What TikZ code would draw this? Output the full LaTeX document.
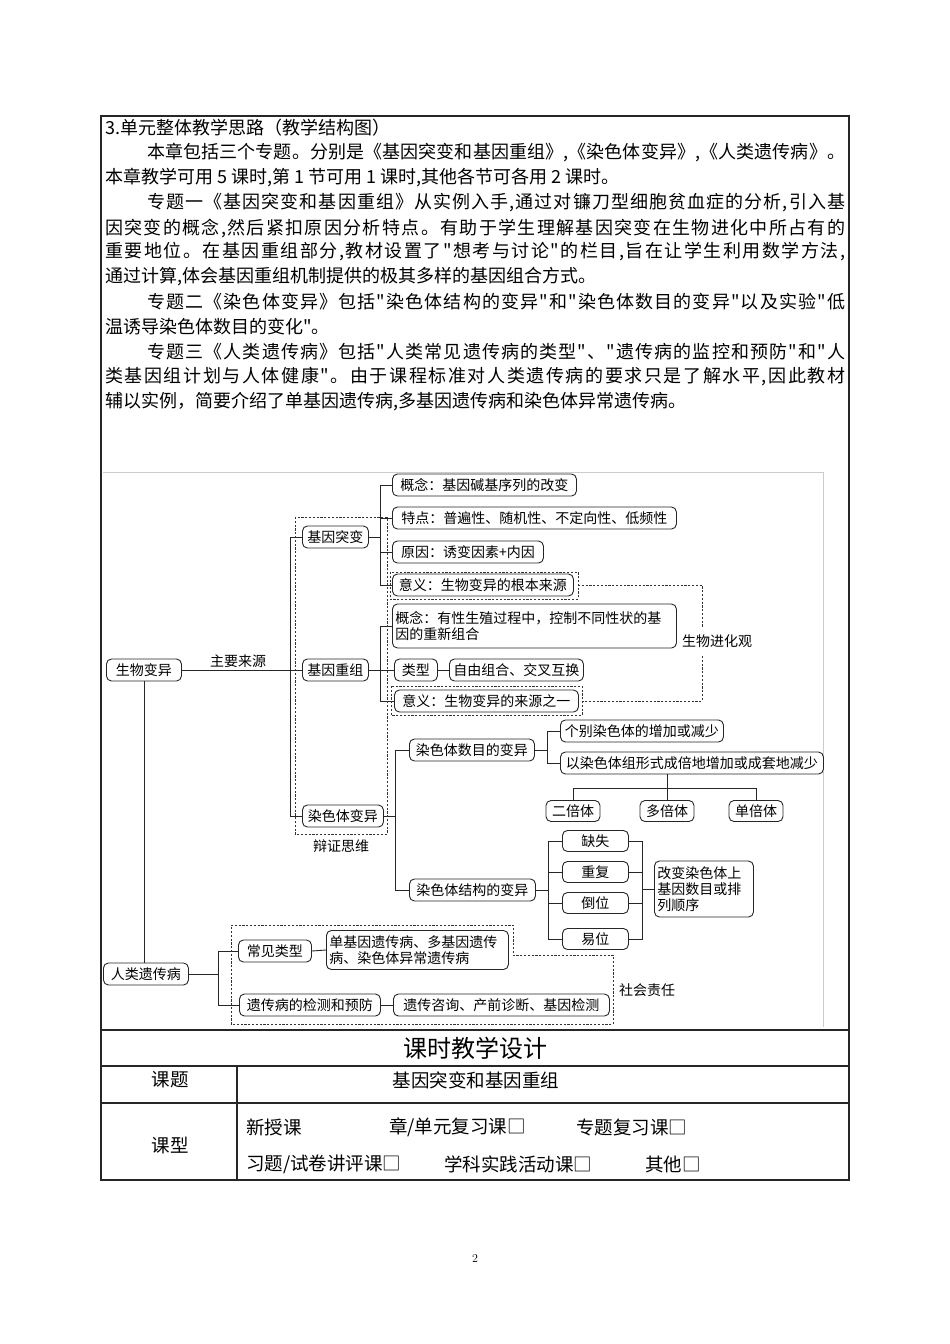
\documentclass[tikz,border=0pt]{standalone}
\usepackage{fontspec}
\newfontfamily\cjk{Noto Sans CJK SC}
\newcommand{\myBody}{\cjk\fontsize{18}{22}\selectfont}
\newcommand{\myDia}{\cjk\fontsize{14}{16}\selectfont}
\newcommand{\myTitle}{\cjk\fontsize{24}{28}\selectfont}
\newcommand{\myCell}{\cjk\fontsize{18.5}{22}\selectfont}
\makeatletter
\newcommand{\jl}[2]{\hbox to #1{\jl@first#2\relax}}
\def\jl@first#1{#1\jl@rest}
\def\jl@rest#1{\ifx\relax#1\else\hfil#1\expandafter\jl@rest\fi}
\makeatother
\begin{document}
\begin{tikzpicture}[x=1pt,y=-1pt,
  bx/.style={draw=black!85, line width=0.9pt, rounded corners=5pt, inner xsep=3pt, inner ysep=0pt, minimum height=22pt, font=\myDia, anchor=west},
  ln/.style={draw=black!85, line width=0.9pt},
  dsh/.style={draw=black!80, line width=0.9pt, dash pattern=on 2.2pt off 1.6pt},
  lbl/.style={font=\myDia, inner sep=0pt},
  body/.style={font=\myBody, inner sep=0pt, anchor=west},
  frameline/.style={draw=black!85, line width=1.2pt},
  cell/.style={font=\myCell, inner sep=0pt}]
\useasboundingbox (0,0) rectangle (950,1344);
\fill[white] (0,0) rectangle (950,1344);

% ---------- body text ----------
\node[body] (t1) at (105,128) {3.单元整体教学思路（教学结构图）};
\node[body] (t2) at (147,153) {\jl{698pt}{本章包括三个专题。分别是《基因突变和基因重组》,《染色体变异》,《人类遗传病》。}};
\node[body] (t3) at (105,178) {本章教学可用 5 课时,第 1 节可用 1 课时,其他各节可各用 2 课时。};
\node[body] (t4) at (147,203) {\jl{698pt}{专题一《基因突变和基因重组》从实例入手,通过对镰刀型细胞贫血症的分析,引入基}};
\node[body] (t5) at (105,228) {\jl{740pt}{因突变的概念,然后紧扣原因分析特点。有助于学生理解基因突变在生物进化中所占有的}};
\node[body] (t6) at (105,252) {\jl{740pt}{重要地位。在基因重组部分,教材设置了"想考与讨论"的栏目,旨在让学生利用数学方法,}};
\node[body] (t7) at (105,277) {通过计算,体会基因重组机制提供的极其多样的基因组合方式。};
\node[body] (t8) at (147,302) {\jl{698pt}{专题二《染色体变异》包括"染色体结构的变异"和"染色体数目的变异"以及实验"低}};
\node[body] (t9) at (105,327) {温诱导染色体数目的变化"。};
\node[body] (t10) at (147,352) {\jl{698pt}{专题三《人类遗传病》包括"人类常见遗传病的类型"、"遗传病的监控和预防"和"人}};
\node[body] (t11) at (105,377) {\jl{740pt}{类基因组计划与人体健康"。由于课程标准对人类遗传病的要求只是了解水平,因此教材}};
\node[body] (t12) at (105,402) {辅以实例，简要介绍了单基因遗传病,多基因遗传病和染色体异常遗传病。};

% ---------- diagram image border ----------
\draw[black!20, line width=0.8pt] (103,472) -- (823,472) -- (823,1027);

% ---------- diagram nodes ----------
\node[bx, minimum width=75pt] (bm) at (106,670) {生物变异};
\node[bx, minimum width=66pt] (tb) at (302,537) {基因突变};
\node[bx, minimum width=66pt] (cz) at (302,670) {基因重组};
\node[bx, minimum width=81pt] (rs) at (302,816) {染色体变异};

\node[bx, minimum width=184pt] (a1) at (392,485) {概念：基因碱基序列的改变};
\node[bx, minimum width=284pt] (a2) at (392,518) {特点：普遍性、随机性、不定向性、低频性};
\node[bx, minimum width=151pt] (a3) at (392,552) {原因：诱变因素+内因};
\node[bx, minimum width=181pt] (a4) at (392,585) {意义：生物变异的根本来源};

\node[bx, minimum height=44pt, text width=278pt, align=left] (b1) at (392,626) {概念：有性生殖过程中，控制不同性状的基\\因的重新组合};
\node[bx, minimum width=43pt] (b2) at (394,670) {类型};
\node[bx, minimum width=134pt] (b3) at (449,670) {自由组合、交叉互换};
\node[bx, minimum width=184pt] (b4) at (394,701) {意义：生物变异的来源之一};

\node[bx, minimum width=125pt] (c1) at (409,750) {染色体数目的变异};
\node[bx, minimum width=126pt] (c2) at (409,890) {染色体结构的变异};

\node[bx, minimum width=163pt] (d1) at (560,731) {个别染色体的增加或减少};
\node[bx, minimum width=263pt] (d2) at (560,763) {以染色体组形式成倍地增加或成套地减少};

\node[bx, anchor=center, minimum width=54pt, minimum height=21pt] (e1) at (573,811) {二倍体};
\node[bx, anchor=center, minimum width=54pt, minimum height=21pt] (e2) at (667,811) {多倍体};
\node[bx, anchor=center, minimum width=54pt, minimum height=21pt] (e3) at (756,811) {单倍体};

\node[bx, minimum width=66pt, minimum height=21pt] (f1) at (562,841) {缺失};
\node[bx, minimum width=66pt, minimum height=21pt] (f2) at (562,872) {重复};
\node[bx, minimum width=66pt, minimum height=21pt] (f3) at (562,903) {倒位};
\node[bx, minimum width=66pt, minimum height=21pt] (f4) at (562,939) {易位};

\node[bx, minimum height=56pt, text width=93pt, align=left] (g) at (654,889) {改变染色体上\\基因数目或排\\列顺序};

\node[bx, minimum width=85pt] (h) at (103,974) {人类遗传病};
\node[bx, minimum width=73pt] (i1) at (238,951) {常见类型};
\node[bx, minimum height=39pt, text width=176pt, align=left] (i2) at (326,950) {单基因遗传病、多基因遗传\\病、染色体异常遗传病};
\node[bx, minimum width=141pt] (i3) at (239,1005) {遗传病的检测和预防};
\node[bx, minimum width=216pt] (i4) at (393,1005) {遗传咨询、产前诊断、基因检测};

% ---------- labels ----------
\node[lbl] (zyly) at (238,661) {主要来源};
\node[lbl] (bzsw) at (341,846) {辩证思维};
\node[lbl, anchor=west] (swjh) at (682,641) {生物进化观};
\node[lbl, anchor=west] (shzr) at (619,990) {社会责任};

% ---------- connectors ----------
\draw[ln] (bm.east) -- (cz.west);
\draw[ln] (tb.west) -- ++(-12,0) |- (rs.west);
\draw[ln] (tb.east) -- ++(12,0);
\draw[ln] (a1.west) -- ++(-12,0) |- (a4.west);
\draw[ln] (a2.west) -- ++(-12,0);
\draw[ln] (a3.west) -- ++(-12,0);
\draw[ln] (cz.east) -- (b2.west);
\draw[ln] (b1.west) -- ++(-12,0) |- (b4.west);
\draw[ln] (b2.east) -- (b3.west);
\draw[ln] (rs.east) -- ++(12,0);
\draw[ln] (c1.west) -- ++(-14,0) |- (c2.west);
\draw[ln] (c1.east) -- ++(13,0);
\draw[ln] (d1.west) -- ++(-13,0) |- (d2.west);
\coordinate (hb) at (667,788);
\draw[ln] (e2.north) -- (e2.north |- d2.south);
\draw[ln] (e1.north) |- (hb) -| (e3.north);
\draw[ln] (c2.east) -- ++(13,0);
\draw[ln] (f1.west) -- ++(-14,0) |- (f4.west);
\draw[ln] (f2.west) -- ++(-14,0);
\draw[ln] (f3.west) -- ++(-14,0);
\draw[ln] (f1.east) -- ++(14,0) |- (f4.east);
\draw[ln] (f2.east) -- ++(14,0);
\draw[ln] (f3.east) -- ++(14,0);
\draw[ln] (g.west) -- ++(-12,0);
\draw[ln] (bm.south) -- (bm.south |- h.north);
\coordinate (hj) at (218,974);
\draw[ln] (h.east) -- (hj);
\draw[ln] (i1.west) -- ++(-20,0) |- (i3.west);
\draw[ln] (i1.east) -- (i2.west);
\draw[ln] (i3.east) -- (i4.west);

% ---------- dashed groups ----------
\draw[dsh] (295,517) rectangle (387,834);
\draw[dsh] (390,572) rectangle (578,599);
\draw[dsh] (391,686) rectangle (582,715);
\draw[dsh] (578,585) -- (702,585) -- (702,627);
\draw[dsh] (702,656) -- (702,701) -- (582,701);
\draw[dsh] (231,925) -- (513,925) -- (513,955) -- (613,955) -- (613,1024) -- (231,1024) -- cycle;

% ---------- frame and table ----------
\draw[frameline] (101,116) rectangle (849,1180);
\draw[draw=black!85, line width=1.6pt] (101,1030) -- (849,1030);
\draw[frameline] (101,1066) -- (849,1066);
\draw[frameline] (101,1103) -- (849,1103);
\draw[frameline] (237,1066) -- (237,1180);

\node[font=\myTitle, inner sep=0pt] (title) at (475,1048) {课时教学设计};
\node[cell] (kt) at (170,1080) {课题};
\node[cell] (ktv) at (476,1080) {基因突变和基因重组};
\node[cell] (kx) at (170,1146) {课型};
\node[cell, anchor=west] (o1) at (246,1127) {新授课};
\node[cell, anchor=west] (o2) at (389,1127) {章/单元复习课□};
\node[cell, anchor=west] (o3) at (576,1127) {专题复习课□};
\node[cell, anchor=west] (o4) at (246,1164) {习题/试卷讲评课□};
\node[cell, anchor=west] (o5) at (444,1164) {学科实践活动课□};
\node[cell, anchor=west] (o6) at (645,1164) {其他□};

\node[font=\fontsize{12}{14}\selectfont, inner sep=0pt] (pg) at (475,1258) {2};
\end{tikzpicture}
\end{document}
